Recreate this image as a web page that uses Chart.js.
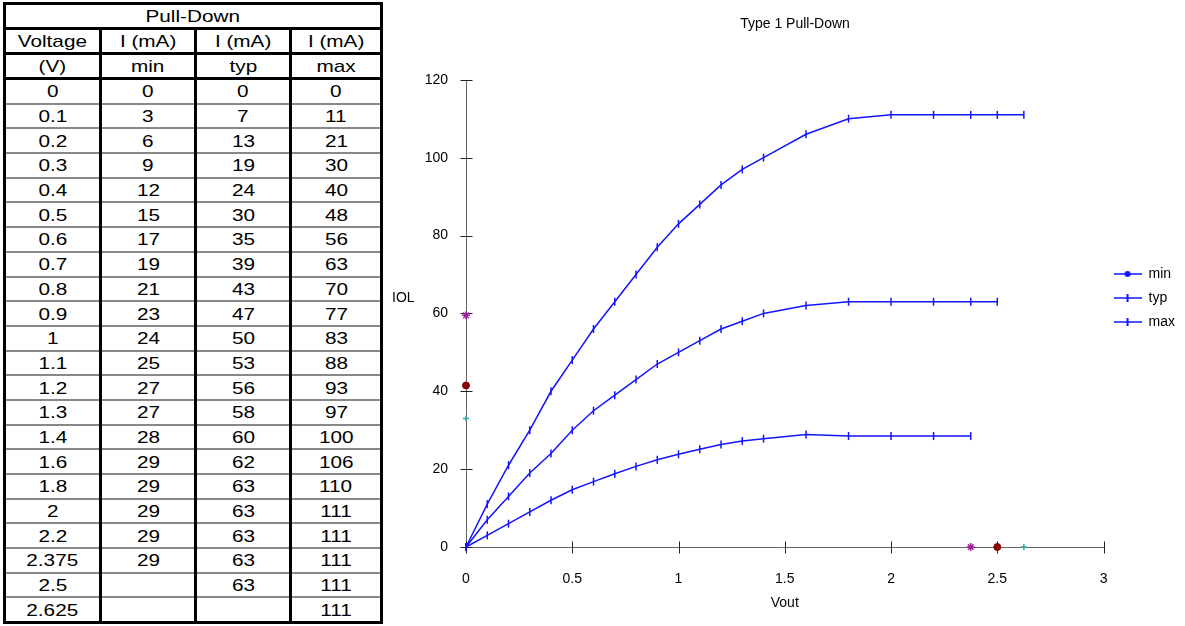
<!DOCTYPE html>
<html>
<head>
<meta charset="utf-8">
<script src="https://cdn.jsdelivr.net/npm/chart.js@4.4.1/dist/chart.umd.min.js"></script>
<style>
  body { margin: 0; background: #fff; font-family: "Liberation Sans", Arial, sans-serif; }
  #tbl {
    position: absolute; left: 3px; top: 2px; width: 377px;
    border-collapse: collapse; table-layout: fixed;
    border: 3px solid #000; font-size: 17px;
  }
  #tbl td { padding: 2px 0 0 0; height: 20.7px; text-align: center; border-left: 3px solid #000; border-right: 3px solid #000; border-bottom: 2px solid #888; line-height: 18px; overflow: hidden; }
  #tbl tr.hd td { border-bottom: 3px solid #000; height: 20px; }
  #tbl td span { display: inline-block; transform: scaleX(1.22); }
  #wrap { position: absolute; left: 385px; top: 0; width: 800px; height: 626px; }
</style>
</head>
<body>
<table id="tbl">
  <colgroup><col style="width:96px"><col style="width:95px"><col style="width:95px"><col style="width:91px"></colgroup>
  <tbody id="tb"></tbody>
</table>
<div id="wrap"><canvas id="chart" width="800" height="626"></canvas></div>
<script>
// table values
const voltage = [0, 0.1, 0.2, 0.3, 0.4, 0.5, 0.6, 0.7, 0.8, 0.9, 1, 1.1, 1.2, 1.3, 1.4, 1.6, 1.8, 2, 2.2, 2.375, 2.5, 2.625];
const iMin = [0, 3, 6, 9, 12, 15, 17, 19, 21, 23, 24, 25, 27, 27, 28, 29, 29, 29, 29, 29];
const iTyp = [0, 7, 13, 19, 24, 30, 35, 39, 43, 47, 50, 53, 56, 58, 60, 62, 63, 63, 63, 63, 63];
const iMax = [0, 11, 21, 30, 40, 48, 56, 63, 70, 77, 83, 88, 93, 97, 100, 106, 110, 111, 111, 111, 111, 111];
const seriesNames = ['min', 'typ', 'max'];

// plotted min curve (the table shows it rounded)
const minCurve = [0, 3, 6, 9, 12, 14.7, 16.8, 18.8, 20.7, 22.4, 23.8, 25.1, 26.3, 27.2, 27.8, 28.9, 28.5, 28.5, 28.5, 28.5];

// odd marker points sitting on the axes
const markPurple = [{x: 0, y: 59.5}, {x: 2.375, y: 0}];
const markRed = [{x: 0, y: 41.5}, {x: 2.5, y: 0}];
const markTeal = [{x: 0, y: 33}, {x: 2.625, y: 0}];

const xTicks = {min: 0, max: 3, step: 0.5};
const yTicks = {min: 0, max: 120, step: 20};

// build the table
var tb = document.getElementById('tb');
function row(cells, cls, span) {
    var tr = document.createElement('tr');
    if (cls) tr.className = cls;
    cells.forEach(function(c){
        var td = document.createElement('td');
        if (c !== '') {
            var s = document.createElement('span');
            s.textContent = c;
            td.appendChild(s);
        }
        if (span) td.colSpan = span;
        tr.appendChild(td);
    });
    tb.appendChild(tr);
}
row(['Pull-Down'], 'hd', 4);
row(['Voltage', 'I (mA)', 'I (mA)', 'I (mA)'], 'hd');
row(['(V)', 'min', 'typ', 'max'], 'hd');
voltage.forEach(function(v, i){
    row([v, iMin[i] !== undefined ? iMin[i] : '', iTyp[i] !== undefined ? iTyp[i] : '', iMax[i] !== undefined ? iMax[i] : '']);
});

function pts(arr) {
    return arr.map(function(v, i){ return {x: voltage[i], y: v}; });
}

var blue = '#1414ff';

function legendIcon(dot) {
    var c = document.createElement('canvas');
    c.width = 28; c.height = 10;
    var g = c.getContext('2d');
    g.strokeStyle = blue; g.lineWidth = 1.5;
    g.beginPath(); g.moveTo(0, 5); g.lineTo(28, 5); g.stroke();
    if (dot) {
        g.fillStyle = blue;
        g.beginPath(); g.arc(14, 5, 3, 0, Math.PI * 2); g.fill();
    } else {
        g.lineWidth = 2;
        g.beginPath(); g.moveTo(14, 1); g.lineTo(14, 9); g.stroke();
    }
    return c;
}

var axesPlugin = {
    id: 'crossAxes',
    beforeDatasetsDraw: function(chart) {
        var ctx = chart.ctx, x = chart.scales.x, y = chart.scales.y;
        var x0 = Math.round(x.getPixelForValue(0)) + 0.5;
        var y0 = Math.round(y.getPixelForValue(0)) + 0.5;
        ctx.save();
        ctx.lineWidth = 1;
        ctx.strokeStyle = '#666';
        ctx.beginPath();
        ctx.moveTo(x0, Math.round(y.getPixelForValue(yTicks.max)) + 0.5); ctx.lineTo(x0, y0);
        ctx.moveTo(x0 - 6, y0); ctx.lineTo(Math.round(x.getPixelForValue(xTicks.max)) + 0.5, y0);
        ctx.stroke();
        ctx.strokeStyle = '#222';
        ctx.beginPath();
        y.ticks.forEach(function(t){
            var p = Math.round(y.getPixelForValue(t.value)) + 0.5;
            ctx.moveTo(x0 - 6, p); ctx.lineTo(x0 + 6, p);
        });
        x.ticks.forEach(function(t){
            var p = Math.round(x.getPixelForValue(t.value)) + 0.5;
            ctx.moveTo(p, y0 - 6); ctx.lineTo(p, y0 + 6);
        });
        ctx.stroke();
        ctx.fillStyle = '#000';
        ctx.font = '14px "Liberation Sans", Arial, sans-serif';
        ctx.textAlign = 'left';
        ctx.textBaseline = 'middle';
        ctx.fillText('IOL', 7, 298);
        ctx.restore();
    }
};

Chart.defaults.font.family = '"Liberation Sans", Arial, sans-serif';
Chart.defaults.font.size = 14;
Chart.defaults.color = '#000';

function lineSet(name, arr) {
    return {
        label: name, data: pts(arr), showLine: true,
        borderColor: blue, borderWidth: 1.5,
        pointStyle: 'line', rotation: 90, pointRadius: 4, pointBorderWidth: 1.5,
        pointBorderColor: blue, pointBackgroundColor: blue, clip: false
    };
}

new Chart(document.getElementById('chart'), {
    type: 'scatter',
    data: {
        datasets: [
            lineSet('min', minCurve),
            lineSet('typ', iTyp),
            lineSet('max', iMax),
            {label: 'm1', data: markPurple, pointStyle: 'star', pointRadius: 4, pointBorderWidth: 1.5, pointBorderColor: '#a020a0', clip: false},
            {label: 'm2', data: markRed, pointStyle: 'circle', pointRadius: 3.5, pointBackgroundColor: '#8b0000', pointBorderColor: '#8b0000', clip: false},
            {label: 'm3', data: markTeal, pointStyle: 'cross', pointRadius: 3, pointBorderWidth: 1.5, pointBorderColor: '#30a8a8', clip: false}
        ]
    },
    options: {
        responsive: false,
        animation: false,
        events: [],
        layout: { padding: { left: 20, right: 0, top: 0, bottom: 0 } },
        plugins: {
            title: {
                display: true, text: 'Type 1 Pull-Down', color: '#000',
                font: { size: 14, weight: 'normal' },
                padding: { top: 16, bottom: 47 }
            },
            legend: {
                display: true, position: 'right', align: 'start',
                title: { display: true, text: ' ', font: { size: 10 }, padding: { top: 245, bottom: 0 } },
                labels: {
                    usePointStyle: true, pointStyleWidth: 28, boxHeight: 14, padding: 10, color: '#000',
                    generateLabels: function(chart) {
                        return seriesNames.map(function(n, i){
                            return { text: n, pointStyle: legendIcon(i === 0), datasetIndex: i, hidden: false, lineWidth: 0, fontColor: '#000' };
                        });
                    }
                }
            },
            tooltip: { enabled: false }
        },
        scales: {
            x: {
                type: 'linear', min: xTicks.min, max: xTicks.max,
                grid: { display: false, drawTicks: false }, border: { display: false },
                ticks: { stepSize: xTicks.step, padding: 24, color: '#000', callback: function(v) { return String(v); } },
                title: { display: true, text: 'Vout', color: '#000', font: { size: 14 }, padding: { top: 4, bottom: 14 } },
                afterFit: function(s) { s.height = 79; }
            },
            y: {
                type: 'linear', min: yTicks.min, max: yTicks.max,
                grid: { display: false, drawTicks: false }, border: { display: false },
                ticks: { stepSize: yTicks.step, padding: 18, color: '#000' },
                afterFit: function(s) { s.width = 61; }
            }
        }
    },
    plugins: [axesPlugin]
});
</script>
</body>
</html>
